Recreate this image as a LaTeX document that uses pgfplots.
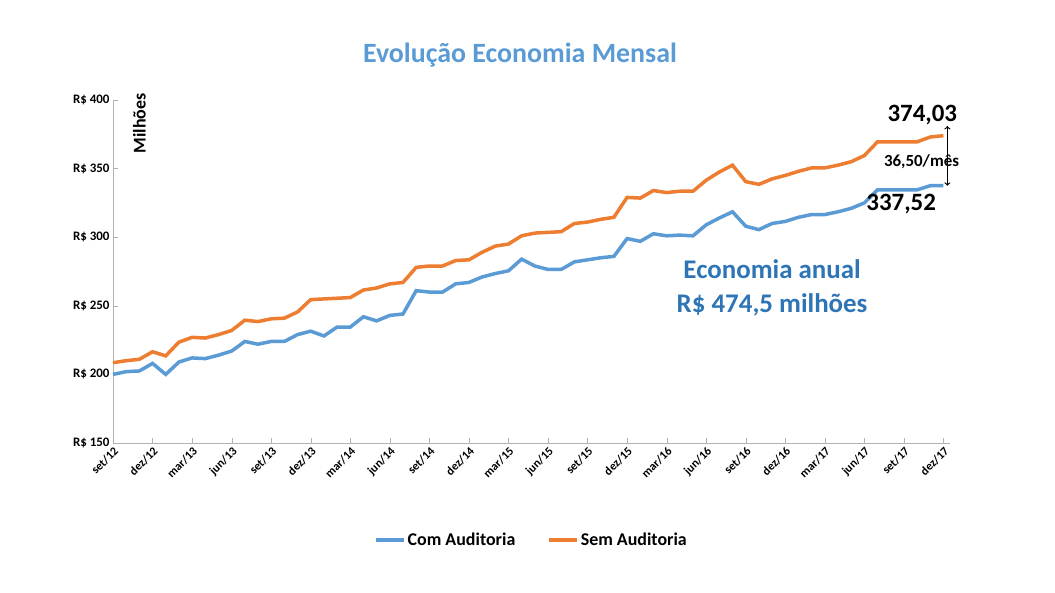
\documentclass[border=0pt]{standalone}
\usepackage{pgfplots}
\pgfplotsset{compat=1.18}
\usepackage{fontspec}
\setmainfont{Carlito}
\definecolor{cblue}{RGB}{91,155,213}
\definecolor{corange}{RGB}{237,125,49}
\definecolor{ttl}{RGB}{91,155,213}
\definecolor{econ}{RGB}{46,117,182}
\begin{document}
\begin{tikzpicture}[x=1bp,y=1bp]
\path[use as bounding box,fill=white] (0,0) rectangle (1055,593);
\begin{axis}[at={(113bp,150bp)},anchor=origin,scale only axis,width=837bp,height=343bp,
 xmin=0,xmax=63.5,ymin=150,ymax=400,
 /pgf/number format/assume math mode=true,
 ytick={150,200,...,400},yticklabel={\textbf{R\$ \pgfmathprintnumber{\tick}}},
 xtick={0,3,...,63},
 xticklabels={set/12,dez/12,mar/13,jun/13,set/13,dez/13,mar/14,jun/14,set/14,dez/14,mar/15,jun/15,set/15,dez/15,mar/16,jun/16,set/16,dez/16,mar/17,jun/17,set/17,dez/17},
 xticklabel style={rotate=45,anchor=north east,font=\bfseries\fontsize{12}{13}\selectfont,inner sep=2pt},
 yticklabel style={font=\bfseries\fontsize{13}{15}\selectfont},
 axis x line*=bottom, axis y line*=left, axis line style={gray!60},
 tick style={gray!60}, major tick length=5bp,
 clip=false,
 legend style={at={(0.5,-0.25)},anchor=north,draw=none,legend columns=2,font=\bfseries\fontsize{18}{20}\selectfont,/tikz/every even column/.append style={column sep=30bp}},
 legend image code/.code={\draw[#1,line width=3.5bp] (0bp,0bp) -- (28bp,0bp);},
 legend cell align=left]
\addplot[cblue,line width=3.5bp] coordinates {(0,200)(1,202)(2,202.5)(3,208)(4,200)(5,209)(6,212)(7,211.5)(8,214)(9,217)(10,224)(11,222)(12,224)(13,224)(14,229)(15,231.5)(16,228)(17,234.5)(18,234.5)(19,242)(20,239)(21,243)(22,244)(23,261)(24,260)(25,260)(26,266)(27,267)(28,271)(29,273.5)(30,275.5)(31,284)(32,279)(33,276.5)(34,276.5)(35,282)(36,283.5)(37,285)(38,286)(39,299)(40,297)(41,302.5)(42,301)(43,301.5)(44,301)(45,309)(46,314)(47,318.5)(48,308)(49,305.5)(50,310)(51,311.5)(52,314.5)(53,316.5)(54,316.5)(55,318.5)(56,321)(57,325)(58,334.5)(59,334.5)(60,334.5)(61,334.5)(62,337.5)(63,337.5)};
\addlegendentry{Com Auditoria}
\addplot[corange,line width=3.5bp] coordinates {(0,208.5)(1,210)(2,211)(3,216.5)(4,213.5)(5,223.5)(6,227)(7,226.5)(8,229)(9,232)(10,239.5)(11,238.5)(12,240.5)(13,241)(14,245.5)(15,254.5)(16,255)(17,255.5)(18,256)(19,261.5)(20,263)(21,266)(22,267)(23,278)(24,279)(25,279)(26,283)(27,283.5)(28,289)(29,293.5)(30,295)(31,301)(32,303)(33,303.5)(34,304)(35,310)(36,311)(37,313)(38,314.5)(39,329)(40,328.5)(41,334)(42,332.5)(43,333.5)(44,333.5)(45,341.5)(46,347.5)(47,352.5)(48,340.5)(49,338.5)(50,342.5)(51,345)(52,348)(53,350.5)(54,350.5)(55,352.5)(56,355)(57,359.5)(58,369.5)(59,369.5)(60,369.5)(61,369.5)(62,373)(63,374)};
\addlegendentry{Sem Auditoria}
\draw[<->,line width=1.2bp] (axis cs:63.3,337.5) -- (axis cs:63.3,381);
\node[font=\bfseries\fontsize{17}{19}\selectfont,anchor=east,inner sep=0pt] at (axis cs:64.2,355) {36,50/mês};
\node[font=\bfseries\fontsize{25}{28}\selectfont,anchor=east] at (axis cs:64.3,389) {374,03};
\node[font=\bfseries\fontsize{25}{28}\selectfont,anchor=east] at (axis cs:62.7,324) {337,52};
\node[font=\bfseries\fontsize{27}{34}\selectfont,text=econ,align=center] at (axis cs:50,263) {Economia anual\\R\$ 474,5 milhões};
\node[font=\bfseries\fontsize{18}{20}\selectfont,rotate=90] at (axis cs:2,383) {Milhões};
\end{axis}
\node[font=\bfseries\fontsize{28}{32}\selectfont,text=ttl] at (520,538) {Evolução Economia Mensal};
\end{tikzpicture}
\end{document}
